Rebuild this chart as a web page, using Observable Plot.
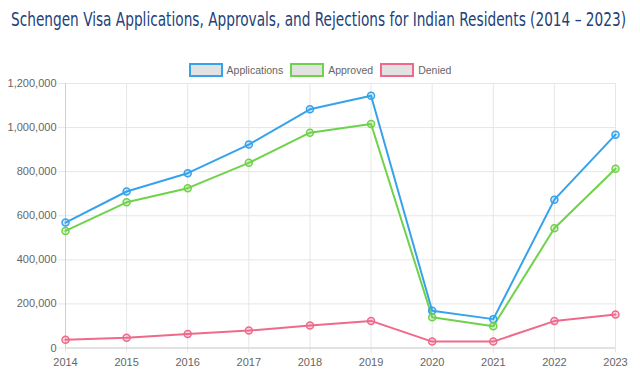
<!DOCTYPE html>
<html>
<head>
<meta charset="utf-8">
<script src="https://cdn.jsdelivr.net/npm/d3@7"></script>
<script src="https://cdn.jsdelivr.net/npm/@observablehq/plot@0.6"></script>
<style>
  html, body { margin: 0; padding: 0; background: #fff; width: 640px; height: 378px; overflow: hidden; }
  #title { height: 40px; box-sizing: border-box; padding: 8px 0 0 11px; font-family: "DejaVu Sans Condensed", "Roboto", sans-serif; font-size: 19px; color: #22427a; white-space: nowrap; }
  #title span { display: inline-block; transform-origin: 0 0; }
  #legend { height: 36px; box-sizing: border-box; padding-top: 23px; display: flex; justify-content: center; gap: 7px; font-family: "Liberation Sans", Arial, sans-serif; font-size: 10.5px; color: #666; margin-left: 0px; }
  .item { display: flex; align-items: center; gap: 4px; }
  .swatch { width: 30px; height: 10px; background: #e2e2e2; border: 2px solid; }
  #chart svg { display: block; }
</style>
</head>
<body>
<div id="title"><span id="titletext">Schengen Visa Applications, Approvals, and Rejections for Indian Residents (2014 – 2023)</span></div>
<div id="legend"></div>
<div id="chart"></div>
<script>
const years = [2014, 2015, 2016, 2017, 2018, 2019, 2020, 2021, 2022, 2023];
const applications = [569000, 710000, 793000, 923000, 1083000, 1144000, 169000, 131000, 673000, 968000];
const approved = [531000, 661000, 725000, 840000, 977000, 1016000, 140000, 99000, 543000, 813000];
const denied = [37000, 46000, 64000, 79000, 102000, 123000, 29000, 29000, 122000, 152000];
const seriesNames = ["Applications", "Approved", "Denied"];
const seriesColors = ["#36a2eb", "#6fd24a", "#ef6a8a"];
const yTicks = [0, 200000, 400000, 600000, 800000, 1000000, 1200000];

const valuesBySeries = [applications, approved, denied];
const data = [];
seriesNames.forEach((s, i) => years.forEach((y, j) => data.push({year: y, value: valuesBySeries[i][j], series: s})));

// fit title width to reference (~615px)
const tt = document.getElementById("titletext");
const w = tt.getBoundingClientRect().width;
tt.style.transform = `scaleX(${615 / w})`;

const legend = document.getElementById("legend");
seriesNames.forEach((s, i) => {
  const it = document.createElement("div");
  it.className = "item";
  it.innerHTML = `<span class="swatch" style="border-color:${seriesColors[i]}"></span><span>${s}</span>`;
  legend.appendChild(it);
});

const fmtYear = d => String(d);
const chart = Plot.plot({
  width: 640,
  height: 302,
  marginTop: 7,
  marginBottom: 30.5,
  marginLeft: 65,
  marginRight: 25,
  style: {fontFamily: "Liberation Sans, Arial, sans-serif", fontSize: "11px", color: "#666", background: "#fff"},
  x: {domain: [2014, 2023], ticks: years, tickFormat: fmtYear, label: null},
  y: {domain: [0, 1200000], ticks: yTicks, tickFormat: d3.format(","), label: null},
  color: {domain: seriesNames, range: seriesColors},
  marks: [
    Plot.gridY(yTicks, {stroke: "#e6e6e6", strokeOpacity: 1, x1: 2014, x2: 2023, insetLeft: -7}),
    Plot.gridX(years, {stroke: "#e6e6e6", strokeOpacity: 1, insetBottom: -5}),
    Plot.ruleY([0], {stroke: "#d0d0d0"}),
    Plot.ruleX([2014], {stroke: "#d0d0d0"}),
    Plot.axisY(yTicks, {tickSize: 0, tickPadding: 9, fill: "#666", tickFormat: d3.format(",")}),
    Plot.axisX(years, {tickSize: 0, tickPadding: 10, fill: "#666", tickFormat: fmtYear}),
    Plot.line(data, {x: "year", y: "value", z: "series", stroke: "series", strokeWidth: 2}),
    Plot.dot(data, {x: "year", y: "value", stroke: "series", fill: "series", fillOpacity: 0.25, r: 3.5, strokeWidth: 1.5})
  ]
});
document.getElementById("chart").appendChild(chart);
</script>
</body>
</html>
